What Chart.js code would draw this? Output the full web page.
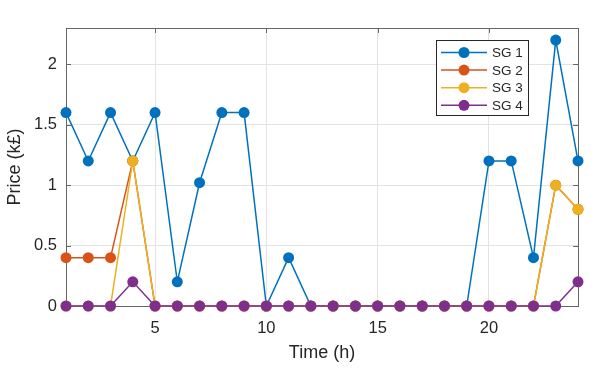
<!DOCTYPE html>
<html>
<head>
<meta charset="utf-8">
<script src="https://cdn.jsdelivr.net/npm/chart.js@4.4.0/dist/chart.umd.min.js"></script>
<style>
  html, body { margin: 0; padding: 0; background: #fff; }
  #wrap { width: 598px; height: 379px; }
</style>
</head>
<body>
<div id="wrap"><canvas id="chart"></canvas></div>
<script>
// hours on the x axis
var hours = [1,2,3,4,5,6,7,8,9,10,11,12,13,14,15,16,17,18,19,20,21,22,23,24];

// price per hour for each SG (k£)
var sg1 = [1.6,1.2,1.6,1.2,1.6,0.2,1.02,1.6,1.6,0,0.4,0,0,0,0,0,0,0,0,1.2,1.2,0.4,2.2,1.2];
var sg2 = [0.4,0.4,0.4,1.2,0,0,0,0,0,0,0,0,0,0,0,0,0,0,0,0,0,0,1.0,0.8];
var sg3 = [0,0,0,1.2,0,0,0,0,0,0,0,0,0,0,0,0,0,0,0,0,0,0,1.0,0.8];
var sg4 = [0,0,0,0.2,0,0,0,0,0,0,0,0,0,0,0,0,0,0,0,0,0,0,0,0.2];

var seriesNames = ['SG 1','SG 2','SG 3','SG 4'];
var seriesColors = ['#0072BD','#D95319','#EDB120','#7E2F8E'];

var xTicks = [5,10,15,20];
var yTicks = [0,0.5,1,1.5,2];

var FONT = '"Liberation Sans", Arial, sans-serif';
var TEXT = '#262626';

function toPoints(vals) {
  return vals.map(function(v, i) { return {x: hours[i], y: v}; });
}

var allSeries = [sg1, sg2, sg3, sg4];
var datasets = allSeries.map(function(vals, i) {
  return {
    label: seriesNames[i],
    data: toPoints(vals),
    borderColor: seriesColors[i],
    backgroundColor: seriesColors[i],
    borderWidth: 1.5,
    pointRadius: 5.5,
    pointHoverRadius: 5.5,
    pointBorderWidth: 0,
    tension: 0,
    clip: false,
    // later series sit on top, like the original plot
    order: allSeries.length - i
  };
});

// box around the plot with inward ticks
var boxPlugin = {
  id: 'box',
  beforeDatasetsDraw: function(chart) {
    var ctx = chart.ctx, a = chart.chartArea;
    var xs = chart.scales.x, ys = chart.scales.y;
    var len = 5;
    ctx.save();
    ctx.strokeStyle = '#666';
    ctx.lineWidth = 1;
    ctx.strokeRect(Math.round(a.left) + 0.5, Math.round(a.top) + 0.5,
                   Math.round(a.right - a.left), Math.round(a.bottom - a.top));
    ctx.beginPath();
    xTicks.forEach(function(v) {
      var px = Math.round(xs.getPixelForValue(v)) + 0.5;
      ctx.moveTo(px, a.bottom); ctx.lineTo(px, a.bottom - len);
      ctx.moveTo(px, a.top); ctx.lineTo(px, a.top + len);
    });
    yTicks.forEach(function(v) {
      var py = Math.round(ys.getPixelForValue(v)) + 0.5;
      ctx.moveTo(a.left, py); ctx.lineTo(a.left + len, py);
      ctx.moveTo(a.right, py); ctx.lineTo(a.right - len, py);
    });
    ctx.stroke();
    ctx.restore();
  }
};

// legend drawn inside the plot, top right
var legendPlugin = {
  id: 'innerLegend',
  afterDraw: function(chart) {
    var ctx = chart.ctx;
    var left = 436, top = 40, w = 92, h = 75;
    var rowH = 17.6, firstRow = 52.5;
    ctx.save();
    ctx.fillStyle = '#fff';
    ctx.fillRect(left, top, w, h);
    ctx.strokeStyle = '#262626';
    ctx.lineWidth = 1;
    ctx.strokeRect(left + 0.5, top + 0.5, w, h);
    ctx.font = '13.5px ' + FONT;
    ctx.textBaseline = 'middle';
    ctx.textAlign = 'left';
    chart.data.datasets.forEach(function(ds, i) {
      var y = firstRow + i * rowH;
      ctx.strokeStyle = ds.borderColor;
      ctx.lineWidth = 1.5;
      ctx.beginPath();
      ctx.moveTo(441, y); ctx.lineTo(487, y);
      ctx.stroke();
      ctx.fillStyle = ds.backgroundColor;
      ctx.beginPath();
      ctx.arc(464, y, 5.5, 0, Math.PI * 2);
      ctx.fill();
      ctx.fillStyle = TEXT;
      ctx.fillText(ds.label, 492, y + 1);
    });
    ctx.restore();
  }
};

function plainLabel(value) { return String(value); }

new Chart(document.getElementById('chart'), {
  type: 'line',
  data: { datasets: datasets },
  plugins: [boxPlugin, legendPlugin],
  options: {
    responsive: true,
    maintainAspectRatio: false,
    animation: false,
    layout: { padding: { top: 28, right: 20, left: 0, bottom: 0 } },
    plugins: { legend: { display: false }, tooltip: { enabled: false } },
    scales: {
      x: {
        type: 'linear',
        min: 1,
        max: 24,
        afterBuildTicks: function(scale) {
          scale.ticks = xTicks.map(function(v) { return {value: v}; });
        },
        afterFit: function(scale) { scale.height = 73; },
        grid: { color: '#e3e3e3', drawTicks: false },
        border: { display: false },
        ticks: { color: TEXT, font: { family: FONT, size: 16.5 }, padding: 13, maxRotation: 0, callback: plainLabel },
        title: {
          display: true, text: 'Time (h)', color: TEXT,
          font: { family: FONT, size: 18 }, padding: { top: 4, bottom: 15 }
        }
      },
      y: {
        min: 0,
        max: 2.3,
        afterBuildTicks: function(scale) {
          scale.ticks = yTicks.map(function(v) { return {value: v}; });
        },
        afterFit: function(scale) { scale.width = 66; },
        grid: { color: '#e3e3e3', drawTicks: false },
        border: { display: false },
        ticks: { color: TEXT, font: { family: FONT, size: 16.5 }, padding: 9, callback: plainLabel },
        title: {
          display: true, text: 'Price (k£)', color: TEXT,
          font: { family: FONT, size: 18 }, padding: { top: 4, bottom: 4 }
        }
      }
    }
  }
});
</script>
</body>
</html>
